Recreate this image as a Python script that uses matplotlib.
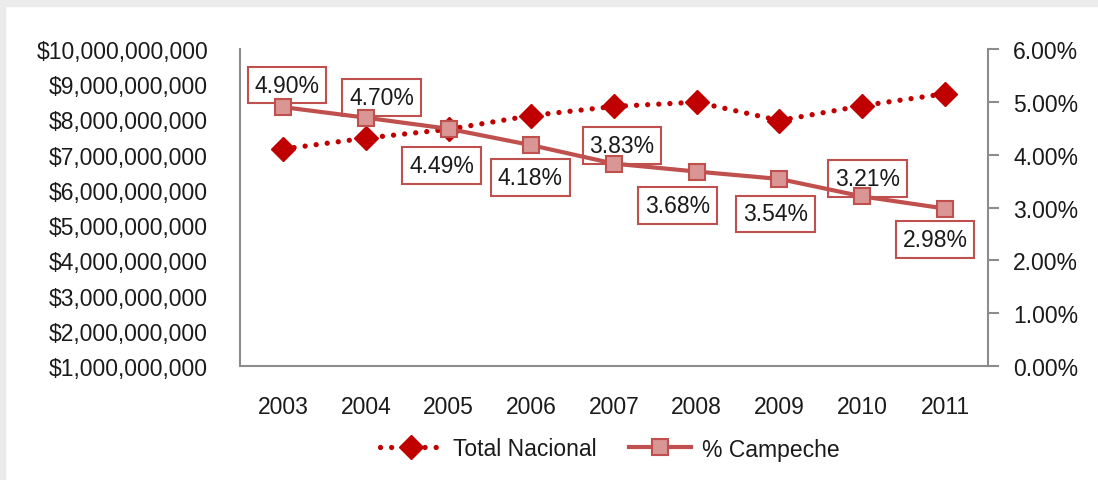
import matplotlib.pyplot as plt
from matplotlib.patches import Rectangle
from matplotlib.lines import Line2D

years = [2003, 2004, 2005, 2006, 2007, 2008, 2009, 2010, 2011]
total_nacional = [7.16e9, 7.47e9, 7.72e9, 8.11e9, 8.37e9, 8.49e9, 7.97e9, 8.39e9, 8.73e9]
pct_campeche = [4.90, 4.70, 4.49, 4.18, 3.83, 3.68, 3.54, 3.21, 2.98]
pct_labels = ["4.90%", "4.70%", "4.49%", "4.18%", "3.83%", "3.68%", "3.54%", "3.21%", "2.98%"]

# where each data label box sits relative to its point (pixels)
label_offsets = [(4, 22), (16, 20), (-7, -37), (-1, -32), (8, 18),
                 (-19, -34), (-4, -35), (5, 18), (-10, -31)]

dark_red = "#C00000"
rose = "#C0504D"
rose_fill = "#D99694"
spine_gray = "#8C8C8C"
txt = "#1A1A1A"
fs = 16.5

plt.rcParams['font.family'] = ['Liberation Sans', 'DejaVu Sans']

fig = plt.figure(figsize=(10.98, 4.81), dpi=100)
fig.patches.append(Rectangle((0, 1 - 7 / 481), 1, 7 / 481, transform=fig.transFigure,
                             color="#EBEBEB", zorder=0))
fig.patches.append(Rectangle((0, 0), 5 / 1098, 1, transform=fig.transFigure,
                             color="#EBEBEB", zorder=0))

ax = fig.add_axes([240 / 1098, 1 - 367 / 481, 748 / 1098, 317 / 481])
ax2 = ax.twinx()

ax.plot(years, total_nacional, color=dark_red, lw=3.8, linestyle=(0, (0.01, 2.1)),
        dash_capstyle='round', marker='D', markersize=12.5, markerfacecolor=dark_red,
        markeredgecolor=dark_red)
ax2.plot(years, pct_campeche, color=rose, lw=3, marker='s', markersize=11,
         markerfacecolor=rose_fill, markeredgecolor=rose, markeredgewidth=1.5, zorder=3)

for x, y, lab, off in zip(years, pct_campeche, pct_labels, label_offsets):
    ax2.annotate(lab, (x, y), xytext=off, textcoords='offset pixels', ha='center',
                 va='center', fontsize=fs, color=txt, zorder=2,
                 bbox=dict(boxstyle='square,pad=0.3', fc='white', ec=rose, lw=1.5))

ax.set_xlim(2002.48, 2011.52)
ax.set_ylim(1e9, 1e10)
ax2.set_ylim(0, 6)
ax.set_xticks(years)
ax.set_yticks([i * 1e9 for i in range(1, 11)])
ax.set_yticklabels(["${:,.0f}".format(i * 1e9) for i in range(1, 11)])
ax2.set_yticks(range(7))
ax2.set_yticklabels(["{:.2f}%".format(v) for v in range(7)])

for a in (ax, ax2):
    for s in a.spines.values():
        s.set_color(spine_gray)
        s.set_linewidth(1.5)
    a.spines['top'].set_visible(False)
ax.spines['right'].set_visible(False)
ax2.spines['left'].set_visible(False)
ax2.spines['bottom'].set_visible(False)

ax.tick_params(axis='y', length=0, pad=23, labelsize=fs, labelcolor=txt)
ax.tick_params(axis='x', length=0, pad=21, labelsize=fs, labelcolor=txt)
ax2.tick_params(axis='y', length=8, width=1.5, color=spine_gray, pad=10,
                labelsize=fs, labelcolor=txt)

handles = [
    Line2D([], [], color=dark_red, lw=3.8, linestyle=(0, (0.01, 2.1)),
           dash_capstyle='round', marker='D', markersize=12.5, markerfacecolor=dark_red),
    Line2D([], [], color=rose, lw=3, marker='s', markersize=11,
           markerfacecolor=rose_fill, markeredgecolor=rose, markeredgewidth=1.5),
]
fig.legend(handles, ["Total Nacional", "% Campeche"], loc='center',
           bbox_to_anchor=(610 / 1098, 1 - 450 / 481), ncol=2, frameon=False,
           fontsize=fs, handlelength=2.7, handletextpad=0.5, columnspacing=1.4,
           labelcolor=txt)

fig.savefig("out.png", dpi=100)
